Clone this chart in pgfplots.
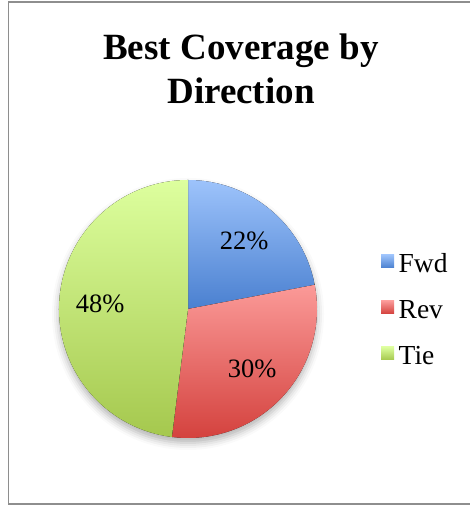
\documentclass[border=0pt]{standalone}
\usepackage{pgfplots}
\pgfplotsset{compat=1.18}
\usepackage{pgfplotstable}
\usetikzlibrary{shadows.blur}
\usepackage{fontspec}
\setmainfont{Liberation Serif}
\definecolor{top0}{HTML}{9DC3FB}
\definecolor{bot0}{HTML}{4A80D0}
\definecolor{top1}{HTML}{FB9A98}
\definecolor{bot1}{HTML}{D3403C}
\definecolor{top2}{HTML}{DDFF9E}
\definecolor{bot2}{HTML}{A5C84E}
\definecolor{framegray}{HTML}{8E8E8E}
\newcommand\pctfont{\fontsize{26.5bp}{30bp}\selectfont}
\newcommand\legfont{\fontsize{27.5bp}{30bp}\selectfont}
\newcommand\titlefont{\fontsize{37bp}{44bp}\selectfont\bfseries}
\pgfplotstableread{
label value
Fwd 22
Rev 30
Tie 48
}\piedata
\begin{document}
\begin{tikzpicture}[x=1bp,y=1bp]
\gdef\cum{90}
\pgfplotsinvokeforeach{0,1,2}{%
  \pgfplotstablegetelem{#1}{value}\of{\piedata}%
  \expandafter\xdef\csname pv#1\endcsname{\pgfplotsretval}%
  \pgfmathsetmacro{\tmpa}{\cum}%
  \pgfmathsetmacro{\tmpb}{\cum-3.6*\csname pv#1\endcsname}%
  \pgfmathsetmacro{\tmpm}{(\tmpa+\tmpb)/2}%
  \expandafter\xdef\csname sa#1\endcsname{\tmpa}%
  \expandafter\xdef\csname ea#1\endcsname{\tmpb}%
  \expandafter\xdef\csname ma#1\endcsname{\tmpm}%
  \xdef\cum{\tmpb}%
}
\useasboundingbox (0,0) rectangle (470,506);
\draw[color=framegray, line width=1.6bp] (8.5,2) rectangle (480,504);
\node[font=\titlefont, align=center, anchor=north, inner sep=0pt] at (241,472) {Best Coverage by\\Direction};
\begin{axis}[
  hide axis, scale only axis,
  width=258bp, height=258bp,
  xmin=-1, xmax=1, ymin=-1, ymax=1,
  at={(188bp,197bp)}, anchor=center, clip=false,
  legend image code/.code={\path[#1] (0bp,-1bp) rectangle (13bp,12bp);},
  legend style={draw=none, fill=none, at={(1.248,0.485)}, anchor=west,
    inner xsep=0pt, inner ysep=0pt, font=\legfont, row sep=20bp,
    nodes={inner xsep=4.5bp, inner ysep=0pt, text height=19bp, text depth=7bp}},
  legend cell align=left,
]
\path[blur shadow={shadow blur radius=7bp, shadow xshift=0bp, shadow yshift=-5bp, shadow opacity=30}, fill=white] (axis cs:0,0) circle[radius=129bp];
\pgfplotsinvokeforeach{0,1,2}{%
  \edef\temp{\noexpand\fill[top color=top#1, bottom color=bot#1] (axis cs:0,0) -- ++(\csname sa#1\endcsname:129bp) arc[start angle=\csname sa#1\endcsname, end angle=\csname ea#1\endcsname, radius=129bp] -- cycle;}%
  \temp
}
\pgfplotsinvokeforeach{0,1,2}{%
  \edef\temp{\noexpand\node[font=\noexpand\pctfont, inner sep=0pt] at ([shift={(\csname ma#1\endcsname:88bp)}]axis cs:0,0) {\csname pv#1\endcsname\noexpand\%};}%
  \temp
}
\addlegendimage{top color=top0, bottom color=bot0, draw=none}
\addlegendentry{Fwd}
\addlegendimage{top color=top1, bottom color=bot1, draw=none}
\addlegendentry{Rev}
\addlegendimage{top color=top2, bottom color=bot2, draw=none}
\addlegendentry{Tie}
\end{axis}
\end{tikzpicture}
\end{document}
